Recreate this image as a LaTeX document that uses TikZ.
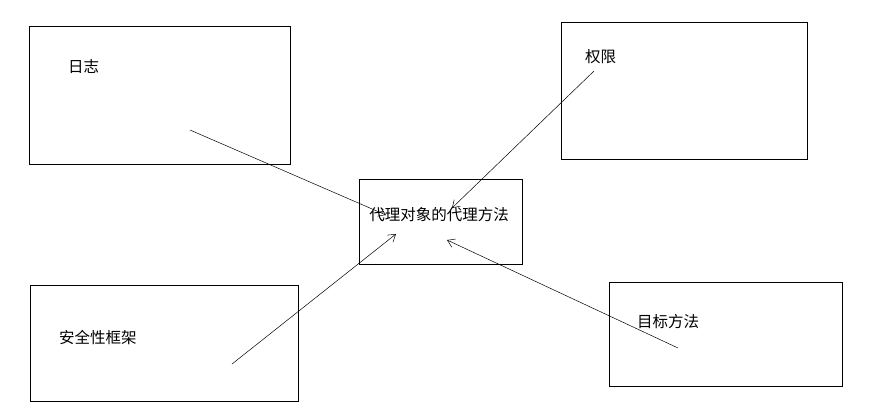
\documentclass[tikz,border=0pt]{standalone}
\usepackage{fontspec}
\newfontfamily\cjk{Noto Sans CJK SC}
\usetikzlibrary{positioning,arrows.meta}

\begin{document}
\begin{tikzpicture}[
    x=1pt, y=-1pt,
    box/.style={draw, line width=0.8pt, anchor=north west, inner sep=0pt},
    tag/.style={inner sep=0pt, font=\cjk\fontsize{15.5}{18}\selectfont},
    wire/.style={-{Straight Barb[length=7pt,width=9pt]}, line width=0.5pt},
]
    \useasboundingbox (0,0) rectangle (878,418);

    % boxes
    \node[box, minimum width=261pt, minimum height=138pt] (rizhi) at (29,26) {};
    \node[box, minimum width=246pt, minimum height=137pt] (quanxian) at (561,22) {};
    \node[box, minimum width=163pt, minimum height=85pt] (proxy) at (359,179) {};
    \node[box, minimum width=268pt, minimum height=116pt] (anquan) at (30,285) {};
    \node[box, minimum width=233pt, minimum height=104pt] (mubiao) at (609,282) {};

    % texts
    \node[tag, anchor=west] (rizhi-txt) at (68,67) {日志};
    \node[tag, anchor=west] (quanxian-txt) at (585,57) {权限};
    \node[tag] (proxy-txt) at (439,215) {代理对象的代理方法};
    \node[tag, anchor=west] (anquan-txt) at (59,338) {安全性框架};
    \node[tag, anchor=west] (mubiao-txt) at (637,322) {目标方法};

    % line ends
    \coordinate (rizhi-out) at (190,130);
    \coordinate (rizhi-in) at (386,215);
    \coordinate (quanxian-out) at (594,71);
    \coordinate (quanxian-in) at (452,208);
    \coordinate (anquan-out) at (232,364);
    \coordinate (anquan-in) at (396,234);
    \coordinate (mubiao-out) at (678,348);
    \coordinate (mubiao-in) at (447,240);

    \foreach \a/\b in {rizhi-out/rizhi-in, quanxian-out/quanxian-in, anquan-out/anquan-in, mubiao-out/mubiao-in} {
        \draw[wire] (\a) -- (\b);
    }
\end{tikzpicture}
\end{document}
